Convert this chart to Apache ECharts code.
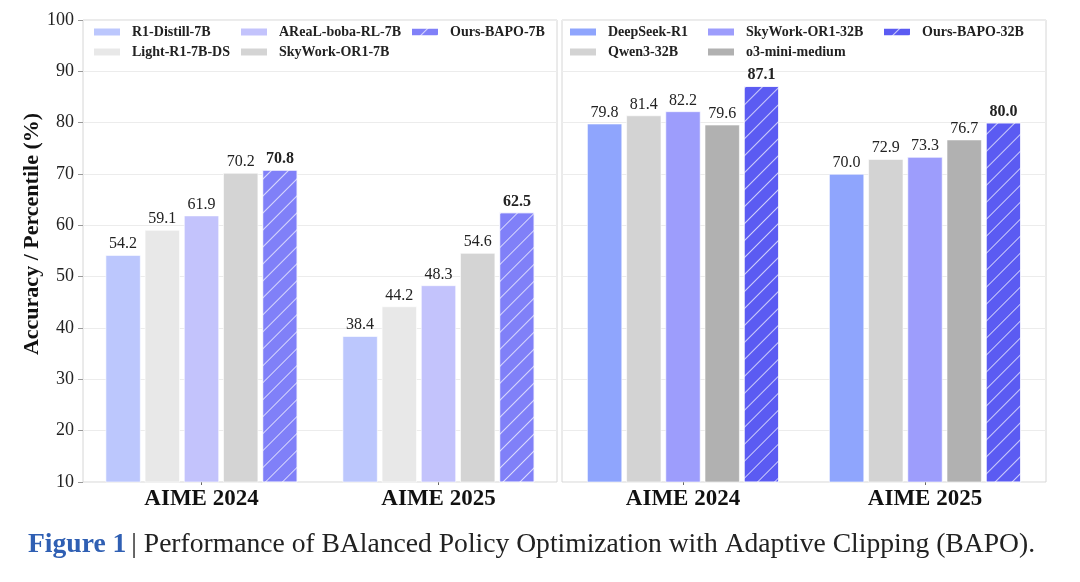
<!DOCTYPE html>
<html>
<head>
<meta charset="utf-8">
<script src="https://cdn.jsdelivr.net/npm/echarts@6/dist/echarts.min.js"></script>
<style>html,body{margin:0;padding:0;background:#fff;}#c{width:1080px;height:582px;}</style>
</head>
<body>
<div id="c"></div>
<script>
const categories = ['AIME 2024', 'AIME 2025'];
const yTicks = [10, 20, 30, 40, 50, 60, 70, 80, 90, 100];

const leftNames = ['R1-Distill-7B', 'Light-R1-7B-DS', 'AReaL-boba-RL-7B', 'SkyWork-OR1-7B', 'Ours-BAPO-7B'];
const r1Distill7B = [54.2, 38.4];
const lightR17BDS = [59.1, 44.2];
const arealBoba7B = [61.9, 48.3];
const skyworkOR17B = [70.2, 54.6];
const oursBAPO7B = [70.8, 62.5];

const rightNames = ['DeepSeek-R1', 'Qwen3-32B', 'SkyWork-OR1-32B', 'o3-mini-medium', 'Ours-BAPO-32B'];
const deepseekR1 = [79.8, 70.0];
const qwen332B = [81.4, 72.9];
const skyworkOR132B = [82.2, 73.3];
const o3MiniMedium = [79.6, 76.7];
const oursBAPO32B = [87.1, 80.0];

const leftValues = [r1Distill7B, lightR17BDS, arealBoba7B, skyworkOR17B, oursBAPO7B];
const rightValues = [deepseekR1, qwen332B, skyworkOR132B, o3MiniMedium, oursBAPO32B];
const leftColors = ['#bcc7fd', '#e8e8e8', '#c3c3fc', '#d4d4d4', '#8080f8'];
const rightColors = ['#8fa5fd', '#d3d3d3', '#9d9dfc', '#b1b1b1', '#5b5bf2'];

const serif = '"Liberation Serif", "Times New Roman", serif';
const hatch = {
  symbol: 'rect', symbolSize: 1, color: 'rgba(255,255,255,0.7)',
  dashArrayX: [1, 0], dashArrayY: [1, 11], rotation: -Math.PI / 4
};

function makeSeries(names, values, colors, axisIdx) {
  return names.map((n, i) => {
    const ours = i === names.length - 1;
    return {
      name: n, type: 'bar', xAxisIndex: axisIdx, yAxisIndex: axisIdx,
      data: values[i], barWidth: 35, barGap: '12%',
      itemStyle: Object.assign({ color: colors[i], borderColor: '#ffffff', borderWidth: 0.6 }, ours ? { decal: hatch } : {}),
      label: {
        show: true, position: 'top', distance: 3,
        fontFamily: serif, fontSize: 16, color: '#222',
        fontWeight: ours ? 'bold' : 'normal',
        formatter: p => p.value.toFixed(1)
      }
    };
  });
}

function legendCol(names, left, top) {
  return {
    orient: 'vertical', left: left, top: top, data: names,
    itemWidth: 28, itemHeight: 9, itemGap: 4, padding: 0,
    icon: 'rect', selectedMode: false,
    textStyle: { fontFamily: serif, fontSize: 14, fontWeight: 'bold', color: '#222', lineHeight: 16, padding: [0, 0, 0, 6] }
  };
}

function yAxis(idx, showLabels) {
  return {
    type: 'value', gridIndex: idx, min: 10, max: 100, interval: 10,
    axisLine: { show: false },
    axisTick: { show: showLabels, length: 5, lineStyle: { color: '#999' } },
    axisLabel: { show: showLabels, fontFamily: serif, fontSize: 18, color: '#222', margin: 9 },
    splitLine: { lineStyle: { color: '#ececec', width: 1 } },
    name: showLabels ? 'Accuracy / Percentile (%)' : '',
    nameLocation: 'middle', nameGap: 37,
    nameTextStyle: { fontFamily: serif, fontSize: 22, fontWeight: 'bold', color: '#111', padding: [0, 0, 0, 34] }
  };
}

function xAxis(idx) {
  return {
    type: 'category', gridIndex: idx, data: categories,
    axisLine: { show: false },
    axisTick: { show: true, alignWithLabel: true, length: 3, lineStyle: { color: '#666' } },
    axisLabel: { fontFamily: serif, fontSize: 23, fontWeight: 'bold', color: '#111', margin: 6 }
  };
}

const chart = echarts.init(document.getElementById('c'));
chart.setOption({
  backgroundColor: '#ffffff',
  animation: false,
  grid: [
    { left: 83, top: 20, width: 474, height: 462, show: true, borderColor: '#d6d6d6', borderWidth: 1 },
    { left: 562, top: 20, width: 484, height: 462, show: true, borderColor: '#d6d6d6', borderWidth: 1 }
  ],
  xAxis: [xAxis(0), xAxis(1)],
  yAxis: [yAxis(0, true), yAxis(1, false)],
  legend: [
    legendCol([leftNames[0], leftNames[1]], 92, 24),
    legendCol([leftNames[2], leftNames[3]], 239, 24),
    legendCol([leftNames[4]], 410, 24),
    legendCol([rightNames[0], rightNames[1]], 568, 24),
    legendCol([rightNames[2], rightNames[3]], 706, 24),
    legendCol([rightNames[4]], 882, 24)
  ],
  title: {
    left: 28, top: 531, padding: 0,
    text: '{a|Figure 1} {b|| Performance of BAlanced Policy Optimization with Adaptive Clipping (BAPO).}',
    textStyle: {
      fontWeight: 'normal',
      rich: {
        a: { fontFamily: serif, fontSize: 27.6, fontWeight: 'bold', color: '#2f5fb3' },
        b: { fontFamily: serif, fontSize: 27.6, fontWeight: 'normal', color: '#222' }
      }
    }
  },
  series: makeSeries(leftNames, leftValues, leftColors, 0).concat(makeSeries(rightNames, rightValues, rightColors, 1))
});
</script>
</body>
</html>
